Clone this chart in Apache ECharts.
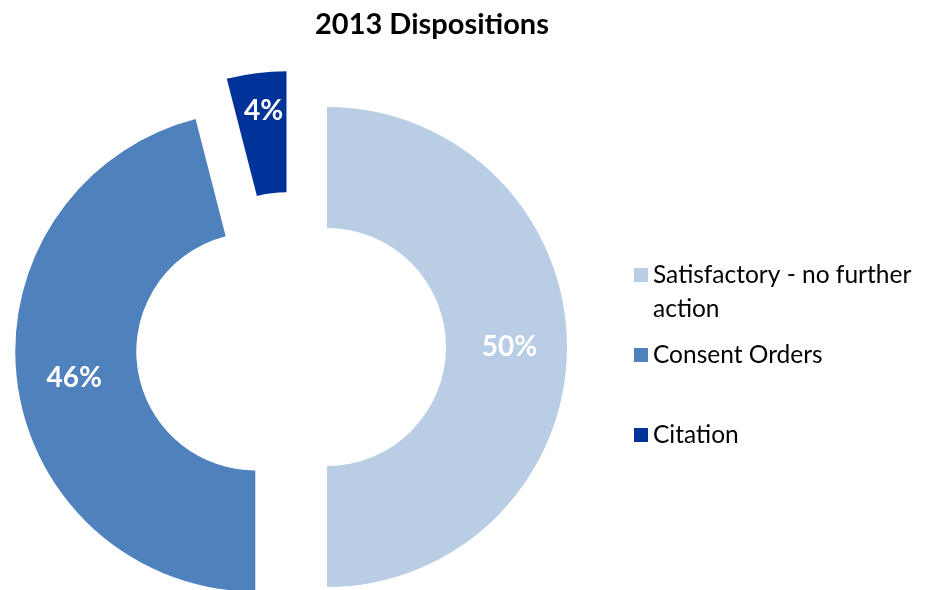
<!DOCTYPE html>
<html><head><meta charset="utf-8">
<script src="https://cdn.jsdelivr.net/npm/echarts@6/dist/echarts.min.js"></script>
<style>html,body{margin:0;padding:0;background:#fff}#c{width:926px;height:590px}</style>
</head><body><div id="c"></div>
<script>
const categories = ['Satisfactory - no further action', 'Consent Orders', 'Citation'];
const values = [50, 46, 4];
const colors = ['#B9CDE5', '#4F81BD', '#003399'];
const titleText = '2013 Dispositions';

const FONT = 'Lato';
const chart = echarts.init(document.getElementById('c'), null, {renderer: 'canvas'});
const legendTops = [219, 333, 413];
const legends = categories.map((c, i) => ({
  orient: 'vertical', left: 629, top: legendTops[i],
  data: [c], itemWidth: 14, itemHeight: 14, icon: 'rect',
  selectedMode: false,
  formatter: n => n === categories[0] ? '\nSatisfactory - no further\naction' : n,
  textStyle: {fontFamily: FONT, fontSize: 24.5, color: '#000', lineHeight: 34}
}));
chart.setOption({
  animation: false,
  title: {text: titleText, left: 427, top: 5, textAlign: 'center',
    textStyle: {fontFamily: FONT, fontWeight: 'bold', fontSize: 29, color: '#000'}},
  legend: legends,
  series: [{
    type: 'pie', center: [291, 347], radius: [119, 240],
    startAngle: 90, clockwise: true,
    selectedMode: 'multiple', selectedOffset: 36,
    emphasis: {disabled: true}, silent: true,
    label: {show: true, position: 'inside', formatter: '{d}%', color: '#fff',
      fontFamily: FONT, fontWeight: 'bold', fontSize: 28},
    labelLine: {show: false},
    labelLayout: p => (p.dataIndex === 2 ? {dy: -19} : p.dataIndex === 1 ? {dy: 4} : {}),
    data: categories.map((c, i) => ({
      name: c, value: values[i], selected: true,
      itemStyle: {color: colors[i]}
    }))
  }]
});
</script></body></html>
